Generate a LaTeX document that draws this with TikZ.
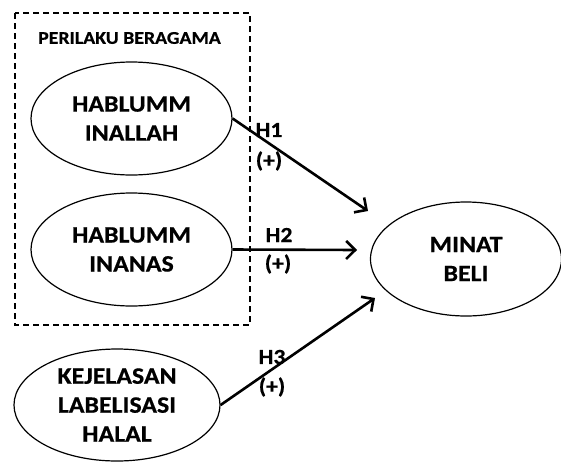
\documentclass[tikz,border=0pt]{standalone}
\usepackage{fontspec}
\setmainfont{Carlito}
\newfontfamily\diagfont[FakeStretch=1.1,FakeBold=0.6]{Carlito}
\usetikzlibrary{shapes.geometric,arrows.meta}
\begin{document}
\begin{tikzpicture}[x=1pt,y=-1pt,
  var/.style={ellipse,draw,line width=1.2pt,inner sep=0pt,align=center,
    font=\diagfont\bfseries\fontsize{23.5}{29}\selectfont},
  lbl/.style={font=\diagfont\bfseries\fontsize{21.5}{24}\selectfont,inner sep=0pt},
  arr/.style={line width=2.6pt,-{Straight Barb[length=9pt,width=18pt,line width=2.6pt]}},
  grp/.style={draw,dashed,line width=1.2pt,dash pattern=on 6pt off 4pt}]
\useasboundingbox (0,0) rectangle (561,461);
\draw[grp] (15,13) rectangle (250,325);
\node[font=\diagfont\bfseries\fontsize{18}{20}\selectfont,inner sep=0pt] (title) at (129.5,38) {PERILAKU BERAGAMA};
\node[var,minimum width=201pt,minimum height=113pt] (e1) at (131.5,118.5) {HABLUMM\\INALLAH};
\node[var,minimum width=201pt,minimum height=113pt] (e2) at (131.5,249.5) {HABLUMM\\INANAS};
\node[var,minimum width=206pt,minimum height=112pt] (e3) at (117,405) {KEJELASAN\\LABELISASI\\HALAL};
\node[var,minimum width=191pt,minimum height=114pt] (y) at (466,259) {MINAT\\BELI};
\coordinate (t1) at (368,211);
\coordinate (t2) at (357,250);
\coordinate (t3) at (375,298);
\draw[arr] (e1.east) -- (t1);
\draw[arr] (e2.east) -- (t2);
\draw[arr] (e3.east) -- (t3);
\node[lbl] (h1) at (269,130) {H1};
\node[lbl] (p1) at (269,161) {(+)};
\node[lbl] (h2) at (279,235) {H2};
\node[lbl] (p2) at (278,264) {(+)};
\node[lbl] (h3) at (272,357) {H3};
\node[lbl] (p3) at (272,387) {(+)};
\end{tikzpicture}
\end{document}
